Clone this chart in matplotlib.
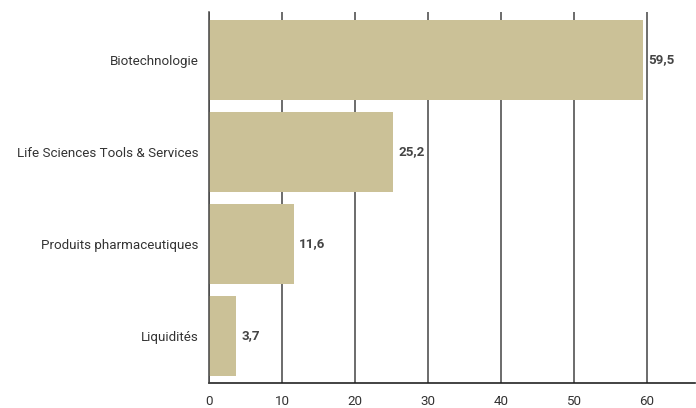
import matplotlib
matplotlib.use("Agg")
import matplotlib.pyplot as plt

categories = ["Biotechnologie", "Life Sciences Tools & Services", "Produits pharmaceutiques", "Liquidités"]
values = [59.5, 25.2, 11.6, 3.7]
xticks = [0, 10, 20, 30, 40, 50, 60]

plt.rcParams['font.family'] = ['Roboto', 'DejaVu Sans']
plt.rcParams['font.stretch'] = 'normal'

fig = plt.figure(figsize=(6.96, 4.08), dpi=100)
ax = fig.add_axes([209/696, 1-383/408, 486/696, 371/408])

pos = list(range(len(categories)))
ax.barh(pos, values, height=0.87, color="#cbc197", zorder=3)
for p, v in zip(pos, values):
    ax.text(v + 0.7, p, f"{v:.1f}".replace(".", ","), va="center", ha="left",
            fontsize=9.6, fontweight="bold", fontstretch="normal", color="#444444", zorder=4)

ax.set_xlim(0, 66.58)
ax.set_ylim(3.511, -0.522)
ax.set_yticks(pos)
ax.set_yticklabels(categories, fontsize=9.6, fontstretch="normal", color="#333333")
ax.set_xticks(xticks)
ax.set_xticklabels([str(t) for t in xticks], fontsize=9.6, fontstretch="normal", color="#333333")
ax.tick_params(axis="y", length=0, pad=7.5)
ax.tick_params(axis="x", length=0, pad=8.5)
ax.grid(axis="x", color="#444444", linewidth=1.1, zorder=1)
ax.grid(axis="y", visible=False)
for s in ["top", "right"]:
    ax.spines[s].set_visible(False)
ax.spines["left"].set_color("#444444")
ax.spines["left"].set_linewidth(1.1)
ax.spines["left"].set_zorder(5)
ax.spines["bottom"].set_color("#222222")
ax.spines["bottom"].set_linewidth(1.2)

fig.savefig("out.png", dpi=100)
